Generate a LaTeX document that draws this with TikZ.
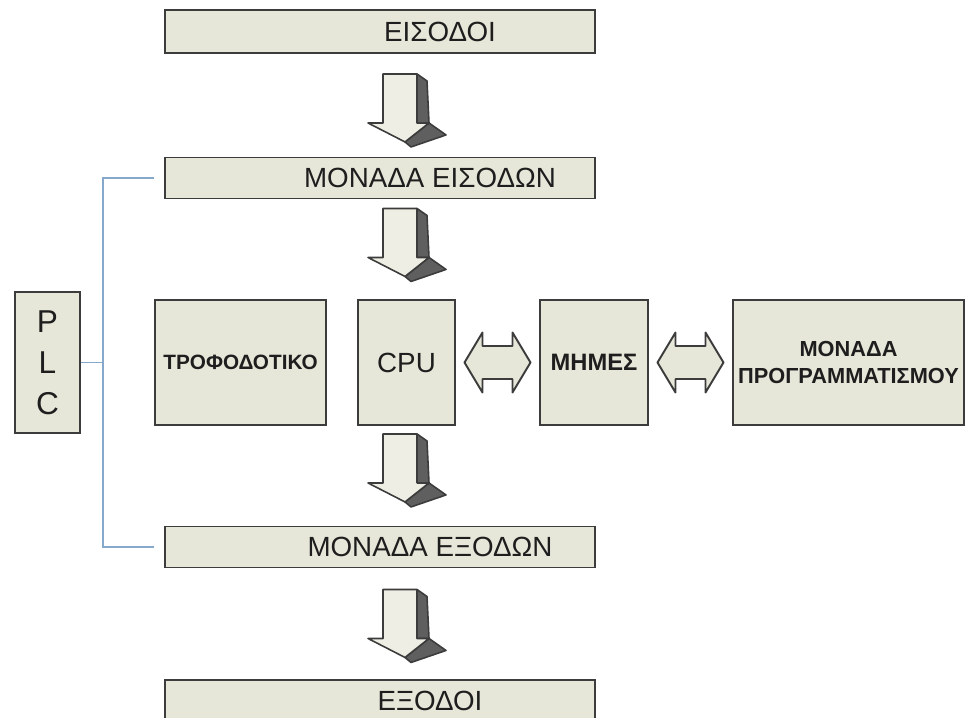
\documentclass[tikz,border=0pt]{standalone}
\usepackage{fontspec}
\setmainfont{Liberation Sans}
\usetikzlibrary{calc}
\definecolor{boxfill}{RGB}{231,231,217}
\definecolor{boxline}{RGB}{60,60,60}
\definecolor{arrowlight}{RGB}{238,238,228}
\definecolor{arrowdark}{RGB}{95,95,95}
\definecolor{busblue}{RGB}{134,168,203}
\definecolor{txt}{RGB}{30,30,30}

\begin{document}
\begin{tikzpicture}[x=0.02cm, y=-0.02cm,
    box/.style={draw=boxline, fill=boxfill, line width=1.1pt, inner sep=0pt, text=txt},
    widebox/.style={box, minimum width=8.6cm, minimum height=0.82cm},
    unitbox/.style={box, minimum height=2.5cm},
    bigtxt/.style={font=\fontsize{15.8}{19}\selectfont, text=txt},
    smalltxt/.style={font=\fontsize{#1}{15}\selectfont\bfseries, align=center},
    plcline/.style={draw=busblue, line width=1pt},
    pics/downarrow/.style={code={
      \filldraw[draw=boxline, fill=arrowdark, line width=0.9pt, line join=round]
        (17,0) -- (27,7) -- (29,49) -- (17,49) -- cycle;
      \filldraw[draw=boxline, fill=arrowdark, line width=0.9pt, line join=round]
        (5,68) -- (29,49) -- (46,61) -- (11,73) -- cycle;
      \filldraw[draw=boxline, fill=arrowlight, line width=0.9pt, line join=round]
        (-17,0) -- (17,0) -- (17,49) -- (29,49) -- (5,68) -- (-32,49) -- (-17,49) -- cycle;
    }},
    pics/dblarrow/.style={code={
      \filldraw[draw=boxline, fill=boxfill, line width=1.1pt, line join=round]
        (-33,0) -- (-15,-30) -- (-15,-16.5) -- (15,-16.5) -- (15,-30) -- (33,0)
        -- (15,30) -- (15,16.5) -- (-15,16.5) -- (-15,30) -- cycle;
    }}]
    \useasboundingbox (0,0) rectangle (967,717);
    \clip (0,0) rectangle (967,717);

    % Eisodoi / exodoi
    \node[widebox, minimum height=0.86cm, label={[bigtxt, xshift=1.2cm]center:ΕΙΣΟΔΟΙ}] (in) at (380,31.5) {};
    \node[widebox, label={[bigtxt, xshift=1cm]center:ΜΟΝΑΔΑ ΕΙΣΟΔΩΝ}] (inu) at (380,178) {};
    \node[widebox, label={[bigtxt, xshift=1cm]center:ΜΟΝΑΔΑ ΕΞΟΔΩΝ}] (outu) at (380,547) {};
    \node[widebox, minimum height=0.84cm, label={[bigtxt, xshift=1cm]center:ΕΞΟΔΟΙ}] (out) at (380,701) {};

    % Kentriki seira
    \node[unitbox, minimum width=3.42cm, smalltxt=11.8] (psu) at (240.5,362.5) {ΤΡΟΦΟΔΟΤΙΚΟ};
    \node[unitbox, minimum width=1.94cm, bigtxt] (cpu) at (406.5,362.5) {CPU};
    \node[unitbox, minimum width=2.16cm, smalltxt=13.5] (mem) at (594,362.5) {ΜΗΜΕΣ};
    \node[unitbox, minimum width=4.62cm, smalltxt=12.4] (prog) at (848.5,362.5) {ΜΟΝΑΔΑ\\ΠΡΟΓΡΑΜΜΑΤΙΣΜΟΥ};

    % PLC
    \node[box, minimum width=1.3cm, minimum height=2.82cm, align=center,
          font=\fontsize{18}{23.3}\selectfont] (plc) at (47.5,362.5) {P\\L\\C};
    \coordinate (bus) at (103,362.5);
    \draw[plcline] ($(inu.west)+(-10,0)$) -| (bus) |- ($(outu.west)+(-10,0)$);
    \draw[plcline] (plc.east) -- (bus);

    % Velh
    \pic at ($(in.south)+(20,20)$) {downarrow};
    \pic at ($(inu.south)+(20,9)$) {downarrow};
    \pic at ($(cpu.south)+(-6.5,8)$) {downarrow};
    \pic at ($(outu.south)+(20,21)$) {downarrow};
    \pic at ($(cpu.east)!0.5!(mem.west)$) {dblarrow};
    \pic at ($(mem.east)!0.5!(prog.west)$) {dblarrow};
\end{tikzpicture}
\end{document}
